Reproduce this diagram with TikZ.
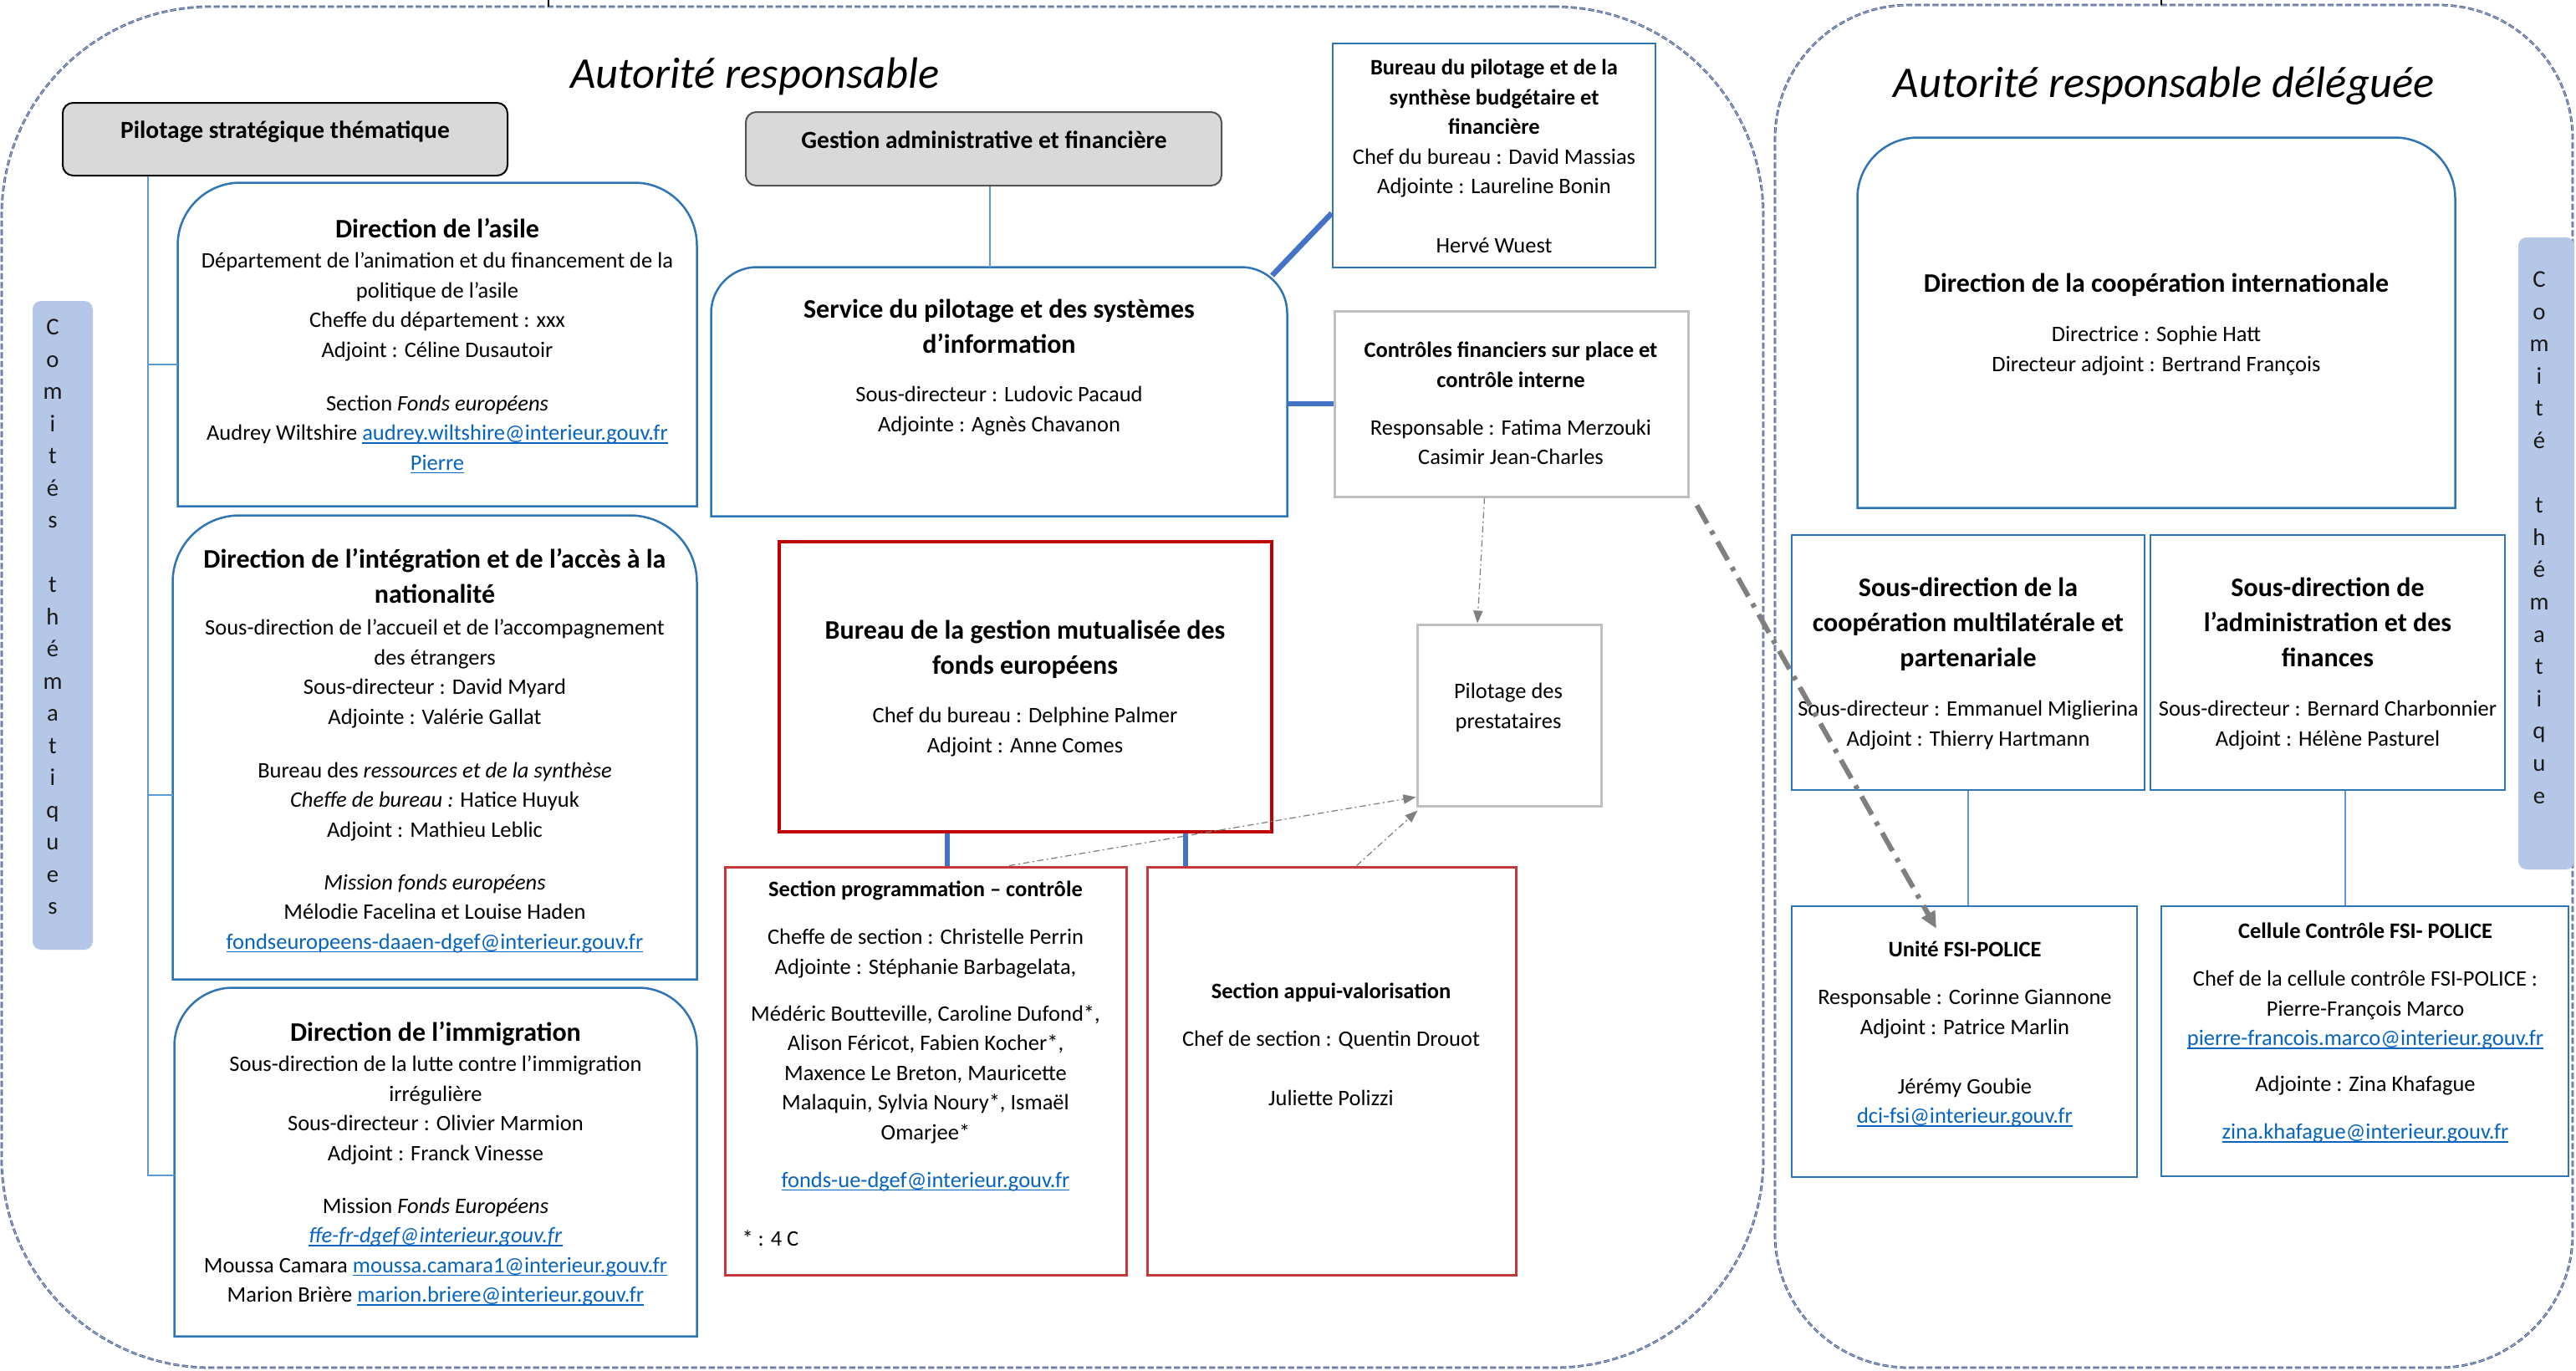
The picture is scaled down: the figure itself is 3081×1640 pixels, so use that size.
\documentclass[tikz,border=0pt]{standalone}
\usepackage{fontspec}
\setmainfont{Carlito}
\usetikzlibrary{fit,arrows.meta}
\definecolor{boxblue}{HTML}{2E75B6}
\definecolor{thkblue}{HTML}{4472C4}
\definecolor{lnblue}{HTML}{5B9BD5}
\definecolor{redA}{HTML}{C00000}
\definecolor{redB}{HTML}{C83737}
\definecolor{grayB}{HTML}{BFBFBF}
\definecolor{grayF}{HTML}{D9D9D9}
\definecolor{comfill}{HTML}{B4C7E7}
\definecolor{linkblue}{HTML}{0563C1}
\definecolor{dashcol}{HTML}{3A5183}
\definecolor{dashin}{HTML}{A9B6D6}
\definecolor{arrgray}{HTML}{7F7F7F}
\definecolor{letcol}{HTML}{1A1A1A}
\newcommand\FL{\rule{0pt}{13pt}}
\newcommand\lnk[1]{\textcolor{linkblue}{\setbox0=\hbox{#1}\rlap{\rule[-1.6pt]{\wd0}{0.5pt}}\box0}}
\newcommand\rtop[3]{\draw[#3] (#1.south west) -- ([yshift=-#2]#1.north west) arc[start angle=180,end angle=90,radius=#2] -- ([xshift=-#2]#1.north east) arc[start angle=90,end angle=0,radius=#2] -- (#1.south east) -- cycle;}
\tikzset{
 zone/.style={inner sep=0pt},
 arframe/.style={draw=dashcol, double=dashin, line width=0.35pt, double distance=0.4pt, dash pattern=on 2.9pt off 1.3pt},
 bluebox/.style={draw=boxblue, line width=1pt},
 redbox/.style={draw=redA, line width=1.4pt},
 secbox/.style={draw=redB, line width=1.2pt},
 graybox/.style={draw=grayB, line width=1.2pt},
 headbox/.style={fill=grayF, line width=0.8pt, rounded corners=5pt},
 headtxt/.style={anchor=base, inner sep=0pt, font=\fontsize{11.8}{14.2}\selectfont\bfseries},
 bodytxt/.style={inner sep=0pt, anchor=north, align=center, font=\fontsize{10.6}{14.2}\selectfont},
 ttltxt/.style={inner sep=0pt, anchor=north, align=center, font=\fontsize{12.8}{16.8}\selectfont\bfseries},
 thinln/.style={draw=lnblue, line width=0.6pt},
 thickln/.style={draw=thkblue, line width=2.6pt},
 dotarrow/.style={draw=arrgray, line width=0.5pt, dash pattern=on 3pt off 1.5pt on 0.8pt off 1.5pt, -{Triangle[length=6pt,width=4.5pt]}},
 bigarrow/.style={draw=arrgray, line width=2.4pt, dash pattern=on 10pt off 4pt on 2pt off 4pt, -{Triangle[length=8pt,width=7pt]}},
 comite/.style={fill=comfill, rounded corners=4pt, inner sep=0pt},
 letters/.style={inner sep=0pt, anchor=north, align=center, text=letcol, font=\fontsize{11.5}{15.4}\selectfont},
}
\begin{document}
\begin{tikzpicture}[x=0.4pt,y=-0.4pt]
\useasboundingbox (0,0) rectangle (3081,1640);
\fill[white] (0,0) rectangle (3081,1640);
% containers
\node[zone, fit={(2,8) (2109,1636)}, arframe, rounded corners=100pt] (AR) {};
\node[zone, fit={(2123,6) (3077,1636)}, arframe, rounded corners=64pt] (AD) {};
\coordinate (t1) at (656,0);
\coordinate (t2) at (2585,0);
\draw[line width=0.8pt] (t1) -- (t1 |- AR.north);
\draw[line width=0.8pt] (t2) -- (t2 |- AD.north);
\node[anchor=base, inner sep=0pt, font=\fontsize{21}{25}\selectfont\itshape] (ARt) at (903,105) {Autorité responsable};
\node[anchor=base, inner sep=0pt, font=\fontsize{21}{25}\selectfont\itshape] (ADt) at (2588,116) {Autorité responsable déléguée};
% comites
\node[comite, fit={(39,360) (111,1136)}] (CL) {};
\node[letters] (CLt) at (63,367.5) {\FL C\\ o\\ m\\ i\\ t\\ é\\ s\\[15.4pt] t\\ h\\ é\\ m\\ a\\ t\\ i\\ q\\ u\\ e\\ s};
\node[comite, fit={(3012,284) (3079,1040)}] (CR) {};
\node[letters, font=\fontsize{11.5}{15.44}\selectfont] (CRt) at (3037,310.5) {\FL C\\ o\\ m\\ i\\ t\\ é\\[15.44pt] t\\ h\\ é\\ m\\ a\\ t\\ i\\ q\\ u\\ e};
% head boxes
\node[zone, headbox, draw=black, fit={(75,123) (607,210)}] (PS) {};
\node[headtxt] (PSt) at (341,165) {Pilotage stratégique thématique};
\node[zone, headbox, draw=black!67, fit={(892,134) (1461,222)}] (GA) {};
\node[headtxt] (GAt) at (1177,177) {Gestion administrative et financière};
% left column
\node[zone, fit={(213,219) (833,605)}] (DA) {};
\rtop{DA}{30pt}{bluebox}
\node[ttltxt] (DAt) at (523,251) {\FL Direction de l’asile};
\node[bodytxt] (DAb) at (523,287.5) {\FL Département de l’animation et du financement de la\\ politique de l’asile\\ Cheffe du département : xxx\\ Adjoint : Céline Dusautoir\\[11.4pt] Section \textit{Fonds européens}\\ Audrey Wiltshire \lnk{audrey.wiltshire@interieur.gouv.fr}\\ \lnk{Pierre}};
\node[zone, fit={(207,617) (833,1171)}] (DI) {};
\rtop{DI}{32pt}{bluebox}
\node[ttltxt] (DIt) at (520,646) {\FL Direction de l'intégration et de l'accès à la\\ nationalité};
\node[bodytxt] (DIb) at (520,726.5) {\FL Sous-direction de l’accueil et de l’accompagnement\\ des étrangers\\ Sous-directeur : David Myard\\ Adjointe : Valérie Gallat\\[11.4pt] Bureau des \textit{ressources et de la synthèse}\\ \textit{Cheffe de bureau :} Hatice Huyuk\\ Adjoint : Mathieu Leblic\\[11pt] \textit{Mission fonds européens}\\ Mélodie Facelina et Louise Haden\\ \lnk{fondseuropeens-daaen-dgef@interieur.gouv.fr}};
\node[zone, fit={(209,1182) (833,1598)}] (DM) {};
\rtop{DM}{28pt}{bluebox}
\node[ttltxt] (DMt) at (521,1212) {\FL Direction de l’immigration};
\node[bodytxt] (DMb) at (521,1248.5) {\FL Sous-direction de la lutte contre l’immigration\\ irrégulière\\ Sous-directeur : Olivier Marmion\\ Adjoint : Franck Vinesse\\[11pt] Mission \textit{Fonds Européens}\\ \lnk{\textit{ffe-fr-dgef@interieur.gouv.fr}}\\ Moussa Camara \lnk{moussa.camara1@interieur.gouv.fr}\\ Marion Brière \lnk{marion.briere@interieur.gouv.fr}};
% tree
\coordinate (tk) at (177,1406);
\coordinate (b1) at (177,436);
\coordinate (b2) at (177,951);
\draw[thinln] (PS.south -| tk) -- (tk) -- (tk -| DM.west);
\draw[thinln] (b1) -- (b1 -| DA.west);
\draw[thinln] (b2) -- (b2 -| DI.west);
% middle column
\node[zone, fit={(851,320) (1539,617)}] (SE) {};
\rtop{SE}{22pt}{bluebox}
\node[ttltxt] (SEt) at (1195,347) {\FL Service du pilotage et des systèmes\\ d’information};
\node[bodytxt] (SEb) at (1195,447.5) {\FL Sous-directeur : Ludovic Pacaud\\ Adjointe : Agnès Chavanon};
\draw[thinln] ([xshift=3pt]GA.south) -- ([xshift=3pt]GA.south |- SE.north);
\node[zone, bluebox, fit={(1594,52) (1980,320)}] (BP) {};
\node[bodytxt] (BPt) at (1787,56.5) {\FL\textbf{Bureau du pilotage et de la}\\ \textbf{synthèse budgétaire et}\\ \textbf{financière}\\ Chef du bureau : David Massias\\ Adjointe : Laureline Bonin\\[14.2pt] Hervé Wuest};
\node[zone, graybox, fit={(1596,372) (2019,594)}] (CF) {};
\node[bodytxt] (CFt) at (1807,394.5) {\FL\textbf{Contrôles financiers sur place et}\\ \textbf{contrôle interne}\\[8.6pt] Responsable : Fatima Merzouki\\ Casimir Jean-Charles};
\node[zone, graybox, fit={(1695,747) (1915,964)}] (PP) {};
\node[bodytxt] (PPt) at (1804,802.5) {\FL Pilotage des\\ prestataires};
\node[zone, redbox, fit={(932,648) (1521,995)}] (BG) {};
\node[ttltxt] (BGt) at (1226,731) {\FL Bureau de la gestion mutualisée des\\ fonds européens};
\node[bodytxt] (BGb) at (1226,831.5) {\FL Chef du bureau : Delphine Palmer\\ Adjoint : Anne Comes};
\node[zone, secbox, fit={(867,1037) (1347,1525)}] (SP) {};
\node[bodytxt] (SPt) at (1107,1039.5) {\FL\textbf{Section programmation – contrôle}\\[8.6pt] Cheffe de section : Christelle Perrin\\ Adjointe : Stéphanie Barbagelata,\\[8.2pt] Médéric Boutteville, Caroline Dufond*,\\ Alison Féricot, Fabien Kocher*,\\ Maxence Le Breton, Mauricette\\ Malaquin, Sylvia Noury*, Ismaël\\ Omarjee*\\[8.6pt] \lnk{fonds-ue-dgef@interieur.gouv.fr}};
\node[anchor=base west, inner sep=0pt, font=\fontsize{10.6}{14.2}\selectfont] (SPn) at (887,1490) {* : 4 C};
\node[zone, secbox, fit={(1372,1037) (1813,1525)}] (SA) {};
\node[bodytxt] (SAt) at (1592,1161.5) {\FL\textbf{Section appui-valorisation}\\[8.6pt] Chef de section : Quentin Drouot\\[14.2pt] Juliette Polizzi};
% right column
\node[zone, fit={(2222,165) (2936,607)}] (DCI) {};
\rtop{DCI}{29pt}{bluebox}
\node[ttltxt] (DCIt) at (2579,316) {\FL Direction de la coopération internationale};
\node[bodytxt] (DCIb) at (2579,375.5) {\FL Directrice : Sophie Hatt\\ Directeur adjoint : Bertrand François};
\node[zone, bluebox, fit={(2143,640) (2565,945)}] (SDC) {};
\node[ttltxt] (SDCt) at (2354,680) {\FL Sous-direction de la\\ coopération multilatérale et\\ partenariale};
\node[bodytxt] (SDCb) at (2354,823.5) {\FL Sous-directeur : Emmanuel Miglierina\\ Adjoint : Thierry Hartmann};
\node[zone, bluebox, fit={(2572,640) (2996,945)}] (SDA) {};
\node[ttltxt] (SDAt) at (2784,680) {\FL Sous-direction de\\ l’administration et des\\ finances};
\node[bodytxt] (SDAb) at (2784,823.5) {\FL Sous-directeur : Bernard Charbonnier\\ Adjoint : Hélène Pasturel};
\node[zone, bluebox, fit={(2143,1084) (2556,1408)}] (UF) {};
\node[bodytxt] (UFt) at (2350,1111.5) {\FL\textbf{Unité FSI-POLICE}\\[8.6pt] Responsable : Corinne Giannone\\ Adjoint : Patrice Marlin\\[14.2pt] Jérémy Goubie\\ \lnk{dci-fsi@interieur.gouv.fr}};
\node[zone, bluebox, fit={(2585,1084) (3072,1407)}] (CC) {};
\node[bodytxt] (CCt) at (2829,1089.5) {\FL\textbf{Cellule Contrôle FSI- POLICE}\\[8.6pt] Chef de la cellule contrôle FSI-POLICE :\\ Pierre-François Marco\\ \lnk{pierre-francois.marco@interieur.gouv.fr}\\[7.8pt] Adjointe : Zina Khafague\\[8.6pt] \lnk{zina.khafague@interieur.gouv.fr}};
% connectors
\draw[thickln] ([xshift=-7.2pt,yshift=-4pt]SE.north east) -- ([yshift=-27.6pt]BP.west);
\draw[thickln] (SE.east |- CF.west) -- (CF.west);
\draw[thickln] ([xshift=-37.4pt]BG.south) -- ([xshift=-37.4pt]BG.south |- SP.north);
\draw[thickln] ([xshift=76.6pt]BG.south) -- ([xshift=76.6pt]BG.south |- SA.north);
\draw[dotarrow] ([xshift=-12.8pt]CF.south) -- ([xshift=-15.2pt]PP.north);
\draw[dotarrow] ([xshift=40pt]SP.north) -- ([yshift=4.8pt]PP.south west);
\draw[dotarrow] ([xshift=12pt]SA.north) -- ([xshift=0.8pt,yshift=-1.6pt]PP.south west);
\draw[thinln] (SDC.south) -- (SDC.south |- UF.north);
\draw[thinln] ([xshift=8.4pt]SDA.south) -- ([xshift=8.4pt]SDA.south |- CC.north);
\draw[bigarrow] ([xshift=3.6pt,yshift=-3.6pt]CF.south east) -- ([xshift=-13.4pt,yshift=-11.2pt]UF.north);
\end{tikzpicture}
\end{document}
